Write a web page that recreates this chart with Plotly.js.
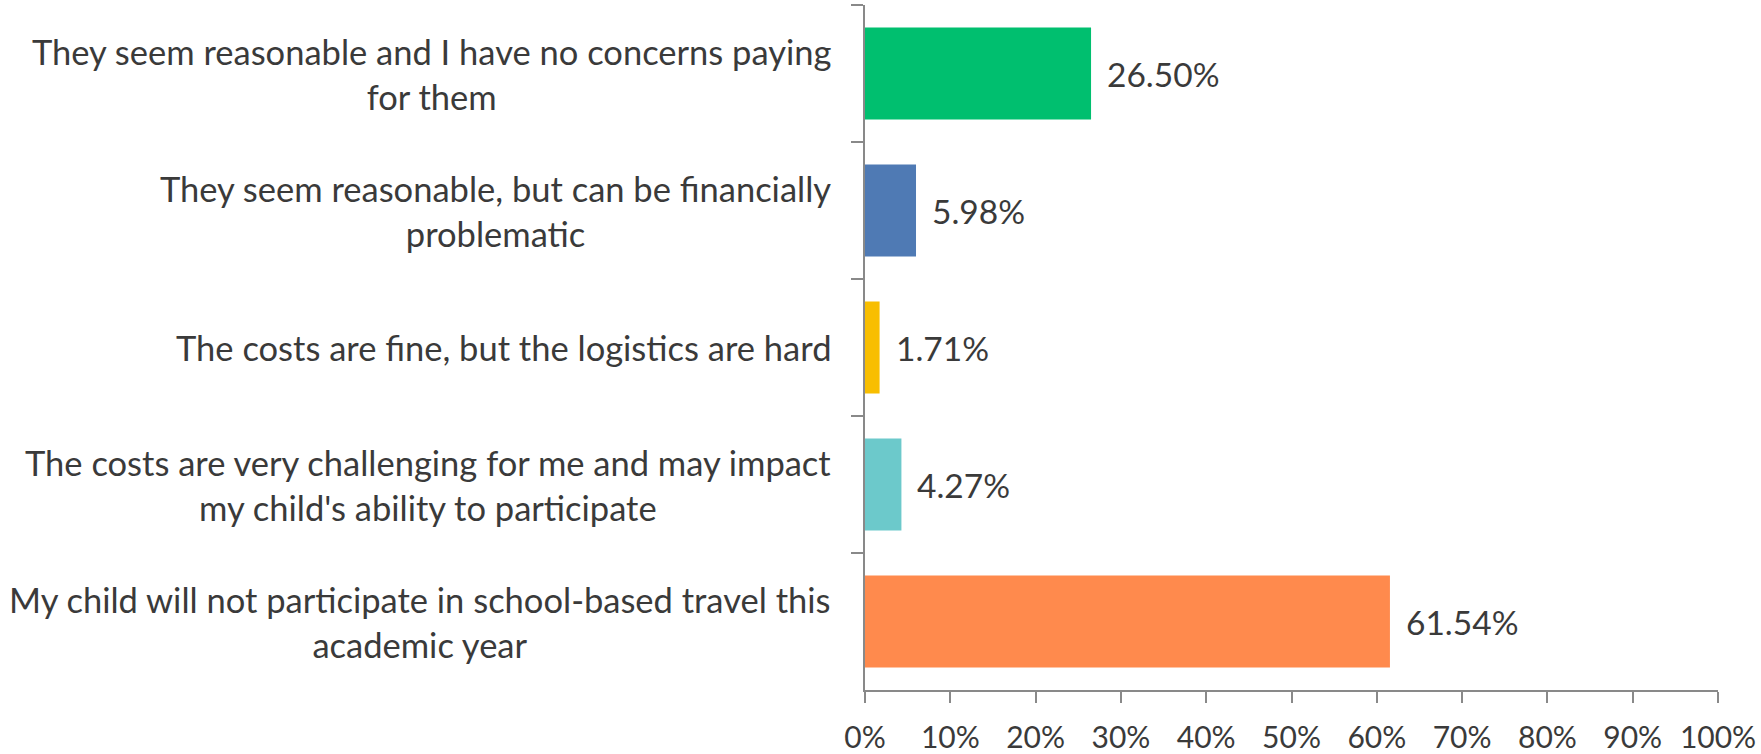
<!DOCTYPE html>
<html>
<head>
<meta charset="utf-8">
<script src="https://cdn.plot.ly/plotly-3.0.1.min.js"></script>
<style>html,body{margin:0;padding:0;background:#fff;}#chart{width:1761px;height:754px;}</style>
</head>
<body>
<div id="chart"></div>
<script>
const categories = [
  "They seem reasonable and I have no concerns paying<br>for them",
  "They seem reasonable, but can be financially<br>problematic",
  "The costs are fine, but the logistics are hard",
  "The costs are very challenging for me and may impact<br>my child's ability to participate",
  "My child will not participate in school-based travel this<br>academic year"
];
const values = [26.50, 5.98, 1.71, 4.27, 61.54];
const valueLabels = ["26.50%", "5.98%", "1.71%", "4.27%", "61.54%"];
const barColors = ["#00BF6F", "#4F7AB4", "#F8BE00", "#6CC9CB", "#FF8A4D"];
const xTickVals = [0,10,20,30,40,50,60,70,80,90,100];
const xTickText = ["0%","10%","20%","30%","40%","50%","60%","70%","80%","90%","100%"];

const FONT = "Lato, Carlito, Calibri, sans-serif";
const TXT = "#3a3a3a";

const trace = {
  type: "bar",
  orientation: "h",
  x: values,
  y: categories,
  marker: {color: barColors},
  width: 0.67,
  hoverinfo: "skip"
};

const annotations = [];
categories.forEach((c, i) => {
  annotations.push({
    xref: "paper", yref: "y", x: 0, y: c, xanchor: "right", yanchor: "middle",
    xshift: -32, align: "center", showarrow: false, text: c,
    font: {family: FONT, size: 34.5, color: TXT}
  });
  annotations.push({
    xref: "x", yref: "y", x: values[i], y: c, xanchor: "left", yanchor: "middle",
    xshift: 14, showarrow: false, text: valueLabels[i],
    font: {family: FONT, size: 33.5, color: TXT}
  });
});

const layout = {
  width: 1761, height: 754,
  margin: {l: 865, r: 43, t: 5, b: 64, pad: 0},
  paper_bgcolor: "#fff", plot_bgcolor: "#fff",
  showlegend: false,
  bargap: 0.33,
  xaxis: {
    range: [0, 100], tickvals: xTickVals, ticktext: xTickText,
    showgrid: false, zeroline: false,
    showline: true, linecolor: "#898989", linewidth: 2,
    ticks: "outside", ticklen: 11, tickcolor: "#898989", tickwidth: 2,
    ticklabelstandoff: 9,
    tickfont: {family: FONT, size: 30, color: TXT},
    fixedrange: true
  },
  yaxis: {
    type: "category", autorange: "reversed",
    showgrid: false, zeroline: false,
    showline: true, linecolor: "#898989", linewidth: 2,
    ticks: "outside", tickson: "boundaries", ticklen: 12, tickcolor: "#898989", tickwidth: 2,
    showticklabels: false,
    fixedrange: true
  },
  annotations: annotations
};

Plotly.newPlot("chart", [trace], layout, {displayModeBar: false, staticPlot: true});
</script>
</body>
</html>
